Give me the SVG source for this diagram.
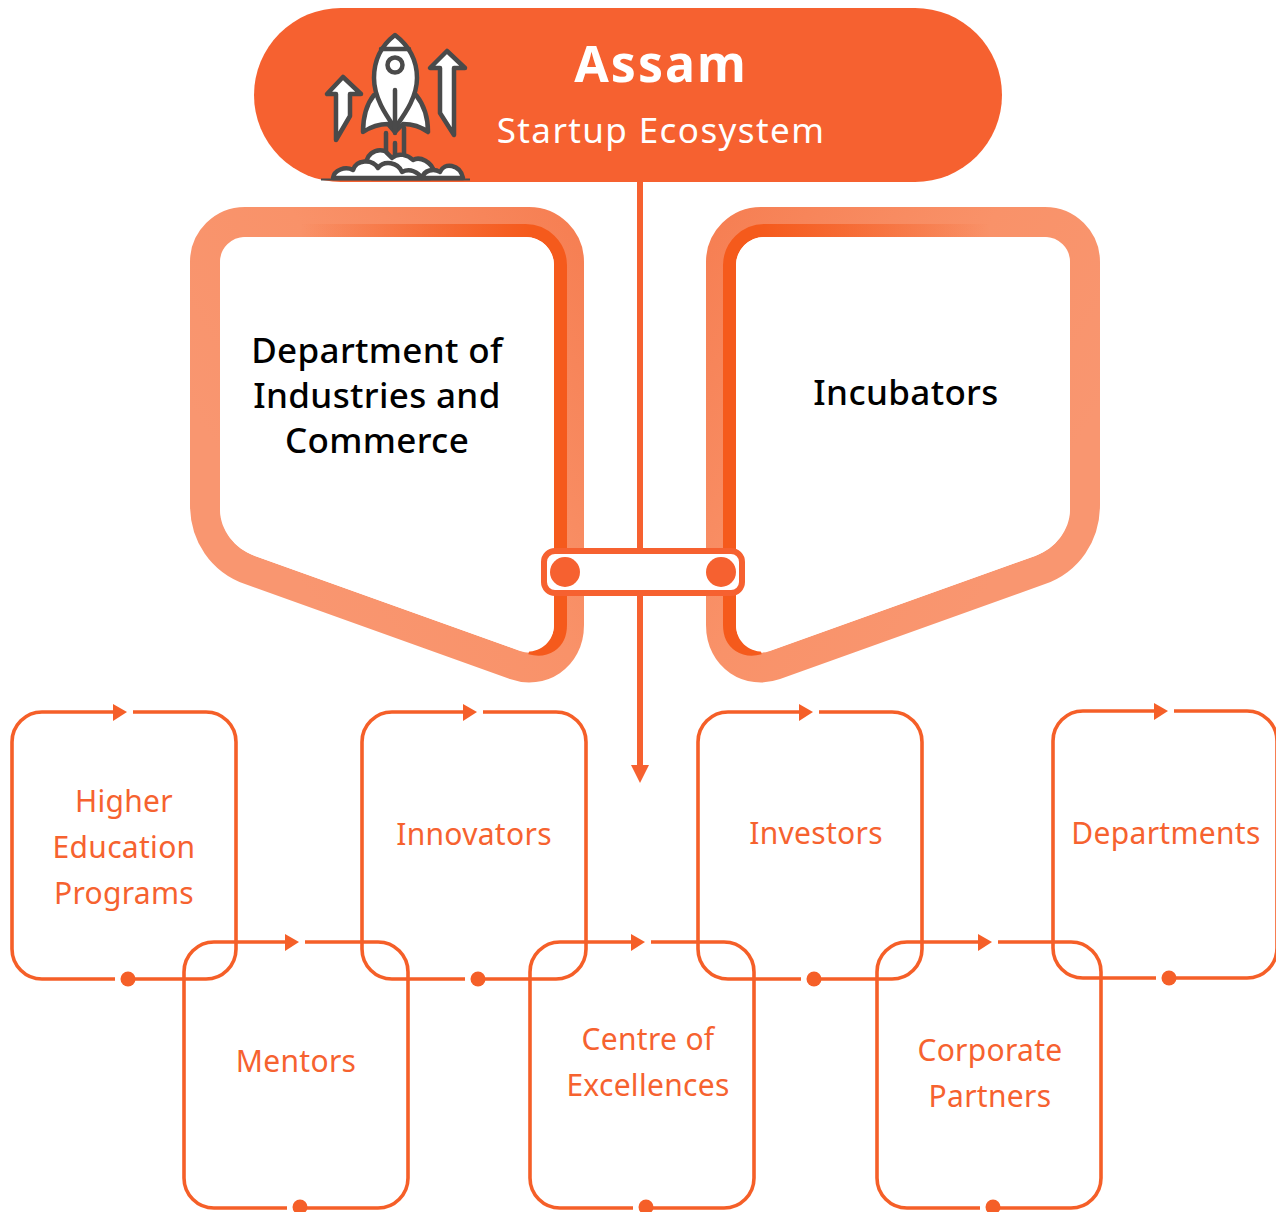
<svg xmlns="http://www.w3.org/2000/svg" width="1276" height="1212" viewBox="0 0 1276 1212">
<style>
text{font-family:"Noto Sans","Open Sans","Liberation Sans",sans-serif;text-anchor:middle}
.lab{font-size:30px;fill:#f6622f;letter-spacing:.3px}
.big{font-size:35px;fill:#000;letter-spacing:.35px;font-weight:500}
.box{fill:none;stroke:#f55f28;stroke-width:3.6;stroke-linecap:butt}
.dot{fill:#f55f28}
.ic{fill:#fff;stroke:#4a4a4a;stroke-width:4.500;stroke-linecap:round;stroke-linejoin:round}
.icl{fill:none;stroke:#4a4a4a;stroke-width:4.500;stroke-linecap:round;stroke-linejoin:round}
</style>
<defs>
<linearGradient id="lo" gradientUnits="userSpaceOnUse" x1="210" y1="440" x2="570" y2="215"><stop offset="0" stop-color="#f99670"/><stop offset=".45" stop-color="#f99269"/><stop offset="1" stop-color="#f67f53"/></linearGradient>
<linearGradient id="ro" gradientUnits="userSpaceOnUse" x1="1080" y1="440" x2="720" y2="215"><stop offset="0" stop-color="#f99670"/><stop offset=".45" stop-color="#f99269"/><stop offset="1" stop-color="#f67f53"/></linearGradient>
<linearGradient id="lt" gradientUnits="userSpaceOnUse" x1="300" y1="225" x2="530" y2="225"><stop offset="0" stop-color="#f55a1c" stop-opacity="0"/><stop offset="1" stop-color="#f55a1c"/></linearGradient>
<linearGradient id="rt" gradientUnits="userSpaceOnUse" x1="990" y1="225" x2="760" y2="225"><stop offset="0" stop-color="#f55a1c" stop-opacity="0"/><stop offset="1" stop-color="#f55a1c"/></linearGradient>
</defs>

<g id="hub">
<rect x="254" y="8" width="748" height="174" rx="87" fill="#f66130"/>
<g id="rocket-icon">
<path class="ic" d="M343 77 L327 94 H336 V140 L350 116 V94 H361 Z"/>
<path class="ic" d="M447 51 L430 68 H440 V113 L454 135 V68 H465 Z"/>
<path class="ic" d="M374 95 C366 105 363 118 363 132 C372 126 382 124 388 124 L395 132 L403 124 C410 124 420 126 428 132 C428 118 424 105 416 95 Z"/>
<path class="ic" d="M395 35 C382 45 374 60 374 78 C374 98 386 115 395 128 C404 115 417 98 417 78 C417 60 408 45 395 35 Z"/>
<path class="icl" d="M381 49 H409 M395 90 V133 M386 133 V153 M404 128 V153 M395 143 V155"/>
<circle class="ic" cx="395" cy="65" r="7.500"/>
<path class="ic" d="M367 168 C364 155 375 148 385 151 C388 154 392 158 392 158 C398 152 408 155 413 160 C420 156 432 162 434 172 L430 178 H372 Z"/>
<path class="ic" d="M333 178 C334 170 345 166 353 170 C356 160 372 158 378 168 C384 160 398 162 402 172 C410 168 418 172 422 178 Z"/>
<path class="ic" d="M422 178 C424 170 434 168 440 172 C444 162 460 164 463 178 Z"/>
<path d="M321 179.500 H470" fill="none" stroke="#4a4a4a" stroke-width="2"/>
</g>
<text x="661" y="82" font-size="50" font-weight="700" fill="#fff" letter-spacing="2">Assam</text>
<text x="661" y="143" font-size="35" fill="#fff" letter-spacing="1.400">Startup Ecosystem</text>
</g>

<g id="department">
<path d="M205 262 A40 40 0 0 1 245 222 H529 A40 40 0 0 1 569 262 V625 C569 658 540 674 515 665 L250 570 C222 560 205 535 205 505 Z" fill="#fff" stroke="url(#lo)" stroke-width="30" stroke-linejoin="round"/>
<path d="M300 230.500 H525 A35 35 0 0 1 560.500 265 V625 C560.500 645 545 652 530 648" fill="none" stroke="url(#lt)" stroke-width="13"/>
<path d="M220 265 A28 28 0 0 1 248 237 H526 A28 28 0 0 1 554 265 V625 C554 645 535 656 518 650 L255 556 C235 549 220 530 220 510 Z" fill="#fff"/>
<text class="big" x="377" y="363">Department of</text>
<text class="big" x="377" y="408">Industries and</text>
<text class="big" x="377" y="453">Commerce</text>
</g>

<g id="incubators">
<path d="M1085 262 A40 40 0 0 0 1045 222 H761 A40 40 0 0 0 721 262 V625 C721 658 750 674 775 665 L1040 570 C1068 560 1085 535 1085 505 Z" fill="#fff" stroke="url(#ro)" stroke-width="30" stroke-linejoin="round"/>
<path d="M990 230.500 H765 A35 35 0 0 0 729.500 265 V625 C729.500 645 745 652 760 648" fill="none" stroke="url(#rt)" stroke-width="13"/>
<path d="M1070 265 A28 28 0 0 0 1042 237 H764 A28 28 0 0 0 736 265 V625 C736 645 755 656 772 650 L1035 556 C1055 549 1070 530 1070 510 Z" fill="#fff"/>
<text class="big" x="906" y="405">Incubators</text>
</g>

<g id="connectors">
<path d="M640 182 V768" stroke="#f66130" stroke-width="6" fill="none"/>
<path d="M631 765 H649 L640 783 Z" fill="#f66130"/>
</g>

<g id="link">
<rect x="544" y="551" width="198" height="42" rx="11" fill="#fff" stroke="#f66130" stroke-width="6"/>
<circle cx="565" cy="572" r="15" fill="#f66130"/>
<circle cx="721" cy="572" r="15" fill="#f66130"/>
</g>

<g id="higher-education">
<path class="box" d="M133 712 H206 A30 30 0 0 1 236 742 V949 A30 30 0 0 1 206 979 H128 M115 979 H42 A30 30 0 0 1 12 949 V742 A30 30 0 0 1 42 712 H115"/>
<path class="dot" d="M113 704 L127 712 L113 721 Z"/><circle class="dot" cx="128" cy="979" r="7.500"/>
<text class="lab" x="124" y="812">Higher</text><text class="lab" x="124" y="858">Education</text><text class="lab" x="124" y="904">Programs</text>
</g>
<g id="innovators">
<path class="box" d="M483 712 H556 A30 30 0 0 1 586 742 V949 A30 30 0 0 1 556 979 H478 M465 979 H392 A30 30 0 0 1 362 949 V742 A30 30 0 0 1 392 712 H465"/>
<path class="dot" d="M463 704 L477 712 L463 721 Z"/><circle class="dot" cx="478" cy="979" r="7.500"/>
<text class="lab" x="474" y="845">Innovators</text>
</g>
<g id="investors">
<path class="box" d="M819 712 H892 A30 30 0 0 1 922 742 V949 A30 30 0 0 1 892 979 H814 M801 979 H728 A30 30 0 0 1 698 949 V742 A30 30 0 0 1 728 712 H801"/>
<path class="dot" d="M799 704 L813 712 L799 721 Z"/><circle class="dot" cx="814" cy="979" r="7.500"/>
<text class="lab" x="816" y="844">Investors</text>
</g>
<g id="departments">
<path class="box" d="M1174 711 H1247 A30 30 0 0 1 1277 741 V948 A30 30 0 0 1 1247 978 H1169 M1156 978 H1083 A30 30 0 0 1 1053 948 V741 A30 30 0 0 1 1083 711 H1156"/>
<path class="dot" d="M1154 703 L1168 711 L1154 720 Z"/><circle class="dot" cx="1169" cy="978" r="7.500"/>
<text class="lab" x="1166" y="844">Departments</text>
</g>
<g id="mentors">
<path class="box" d="M305 942 H378 A30 30 0 0 1 408 972 V1178 A30 30 0 0 1 378 1208 H300 M287 1208 H214 A30 30 0 0 1 184 1178 V972 A30 30 0 0 1 214 942 H287"/>
<path class="dot" d="M285 934 L299 942 L285 951 Z"/><circle class="dot" cx="300" cy="1207" r="7.500"/>
<text class="lab" x="296" y="1072">Mentors</text>
</g>
<g id="centre">
<path class="box" d="M651 942 H724 A30 30 0 0 1 754 972 V1178 A30 30 0 0 1 724 1208 H646 M633 1208 H560 A30 30 0 0 1 530 1178 V972 A30 30 0 0 1 560 942 H633"/>
<path class="dot" d="M631 934 L645 942 L631 951 Z"/><circle class="dot" cx="646" cy="1207" r="7.500"/>
<text class="lab" x="648" y="1050">Centre of</text><text class="lab" x="648" y="1096">Excellences</text>
</g>
<g id="corporate">
<path class="box" d="M998 942 H1071 A30 30 0 0 1 1101 972 V1178 A30 30 0 0 1 1071 1208 H993 M980 1208 H907 A30 30 0 0 1 877 1178 V972 A30 30 0 0 1 907 942 H980"/>
<path class="dot" d="M978 934 L992 942 L978 951 Z"/><circle class="dot" cx="993" cy="1207" r="7.500"/>
<text class="lab" x="990" y="1061">Corporate</text><text class="lab" x="990" y="1107">Partners</text>
</g>
</svg>
